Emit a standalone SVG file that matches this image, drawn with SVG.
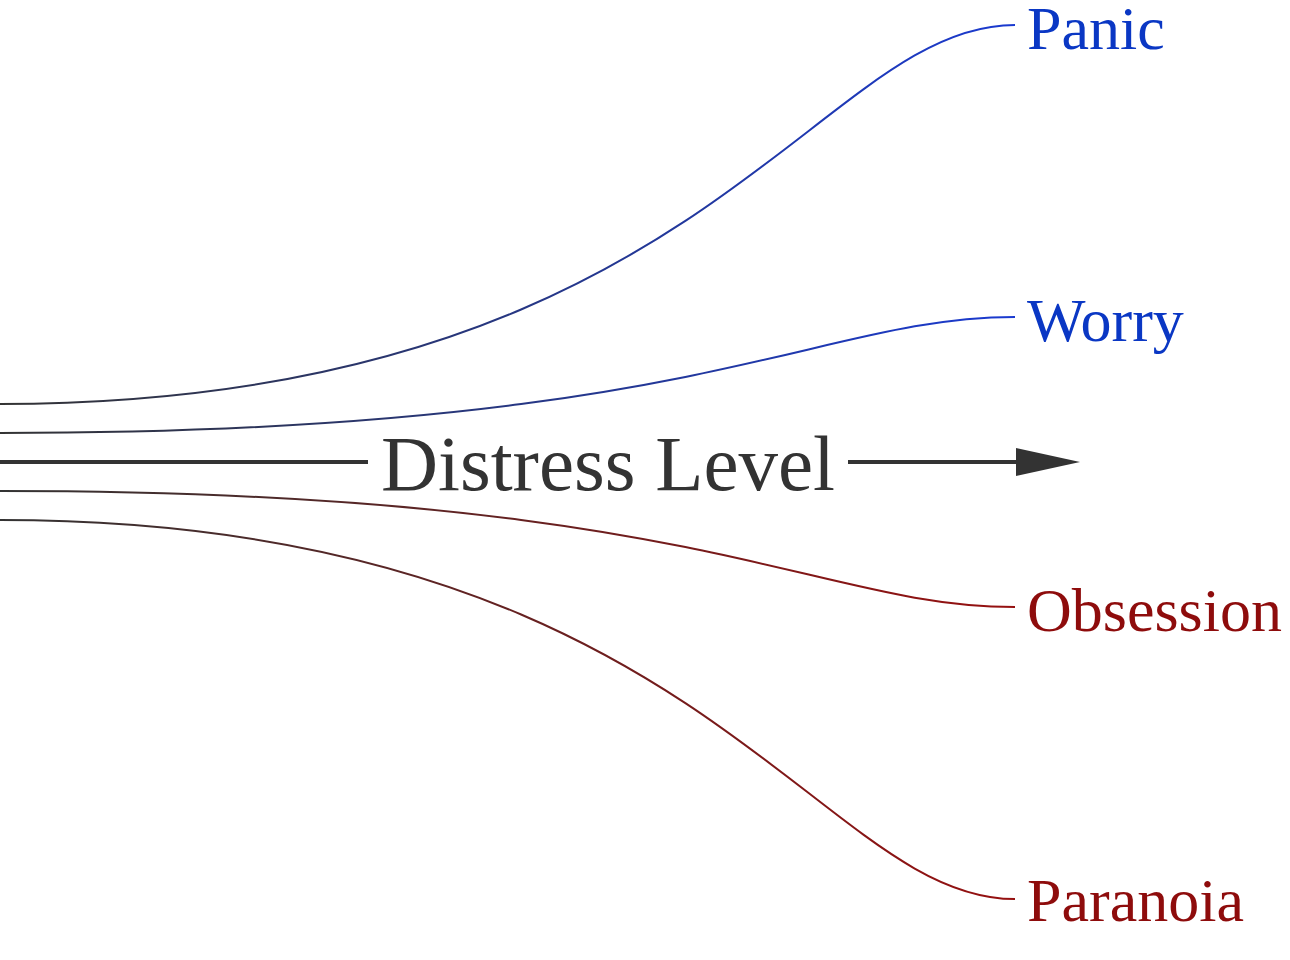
<svg xmlns="http://www.w3.org/2000/svg" width="1290" height="960" viewBox="0 0 1290 960">
<style>
.curve{fill:none;stroke-width:2}
.lbl{font-family:"Liberation Serif","DejaVu Serif",serif;font-size:62px}
.blue{fill:#0a37c4}
.red{fill:#8e0c0c}
.axis{stroke:#333;stroke-width:4;fill:none}
.axlbl{font-family:"Liberation Serif","DejaVu Serif",serif;font-size:79px;fill:#333}
</style>
<defs>
<linearGradient id="gb" gradientUnits="userSpaceOnUse" x1="0" y1="0" x2="1015" y2="0">
<stop offset="0" stop-color="#333333"/><stop offset="1" stop-color="#1a3ad0"/>
</linearGradient>
<linearGradient id="gr" gradientUnits="userSpaceOnUse" x1="0" y1="0" x2="1015" y2="0">
<stop offset="0" stop-color="#333333"/><stop offset="1" stop-color="#961010"/>
</linearGradient>
<marker id="arr" markerWidth="16" markerHeight="7" refX="0" refY="3.5" orient="auto" markerUnits="strokeWidth">
<path d="M0,0 L16,3.5 L0,7 Z" fill="#333"/>
</marker>
</defs>
<g id="connectors">
<path class="curve" stroke="url(#gb)" d="M0,404 C700,404 815,25 1015,25"/>
<path class="curve" stroke="url(#gb)" d="M0,433 C700,433 815,317 1015,317"/>
<path class="curve" stroke="url(#gr)" d="M0,491 C700,491 815,607 1015,607"/>
<path class="curve" stroke="url(#gr)" d="M0,520 C700,520 815,899 1015,899"/>
</g>
<g id="axis">
<line class="axis" x1="0" y1="462" x2="368" y2="462"/>
<line class="axis" x1="848" y1="462" x2="1016" y2="462" marker-end="url(#arr)"/>
<text class="axlbl" x="608" y="490" text-anchor="middle">Distress Level</text>
</g>
<g id="panic"><text class="lbl blue" x="1027" y="49">Panic</text></g>
<g id="worry"><text class="lbl blue" x="1027" y="341">Worry</text></g>
<g id="obsession"><text class="lbl red" x="1027" y="631">Obsession</text></g>
<g id="paranoia"><text class="lbl red" x="1027" y="921">Paranoia</text></g>
</svg>
